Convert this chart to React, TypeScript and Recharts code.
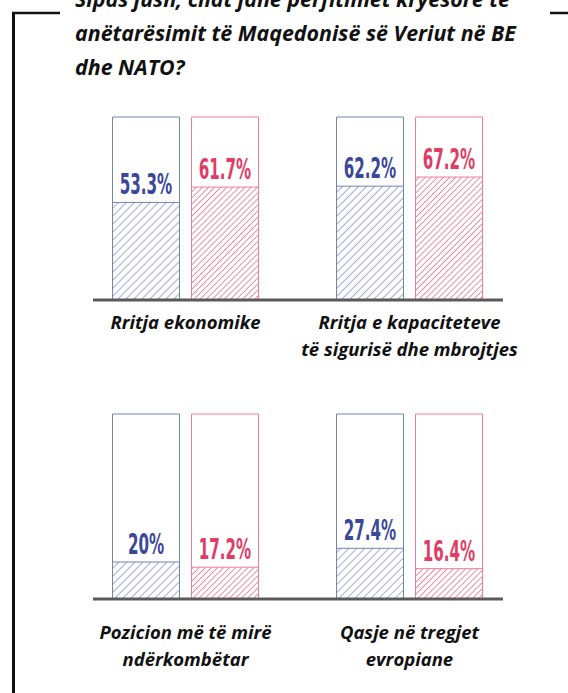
import React from 'react';
import { BarChart, Bar, XAxis, YAxis, LabelList } from 'recharts';

const titleLines = [
  'Sipas jush, cilat janë përfitimet kryesore të',
  'anëtarësimit të Maqedonisë së Veriut në BE',
  'dhe NATO?',
];

const topCategories = ['Rritja ekonomike', 'Rritja e kapaciteteve\ntë sigurisë dhe mbrojtjes'];
const topBlue = [53.3, 62.2];
const topPink = [61.7, 67.2];

const bottomCategories = ['Pozicion më të mirë\nndërkombëtar', 'Qasje në tregjet\nevropiane'];
const bottomBlue = [20, 27.4];
const bottomPink = [17.2, 16.4];

const valueDomain: [number, number] = [0, 100];

const BLUE_TEXT = '#3b4799';
const BLUE_BORDER = '#7486ab';
const BLUE_HATCH = '#7a86c2';
const PINK_TEXT = '#e03c66';
const PINK_BORDER = '#f07d99';
const PINK_HATCH = '#e8456c';

const LABEL_FONT = "'Liberation Sans Narrow', 'DejaVu Sans Condensed', 'Arial Narrow', sans-serif";
const TEXT_FONT = "'Open Sans', Lato, sans-serif";

const makeValueLabel = (color: string) => (props: any) => {
  const { x, y, width, value } = props;
  const cx = Number(x) + Number(width) / 2;
  const by = Number(y) - 8;
  return (
    <text
      x={cx}
      y={by}
      textAnchor="middle"
      fill={color}
      fontFamily={LABEL_FONT}
      fontWeight={700}
      fontSize={28}
      transform={`translate(${cx} ${by}) scale(0.6 1) translate(${-cx} ${-by})`}
    >
      {`${value}%`}
    </text>
  );
};

const makeTick = (firstOffset: number) => (props: any) => {
  const { x, y, payload } = props;
  const lines = String(payload.value).split('\n');
  return (
    <text
      x={x}
      y={y}
      textAnchor="middle"
      fill="#111"
      fontFamily={TEXT_FONT}
      fontStyle="italic"
      fontWeight={700}
      fontSize={18.5}
    >
      {lines.map((l, i) => (
        <tspan key={i} x={x} y={Number(y) + firstOffset + i * 27}>
          {l}
        </tspan>
      ))}
    </text>
  );
};

type RowProps = {
  categories: string[];
  blue: number[];
  pink: number[];
  top: number;
  plotTop: number;
  plotBottom: number;
  tickOffset: number;
  id: string;
};

const Row = ({ categories, blue, pink, top, plotTop, plotBottom, tickOffset, id }: RowProps) => {
  const data = categories.map((name, i) => ({ name, blue: blue[i], pink: pink[i] }));
  const axisH = 80;
  const height = plotTop + (plotBottom - plotTop) + axisH;
  return (
    <div style={{ position: 'absolute', left: 0, top }}>
      <BarChart
        width={568}
        height={height}
        data={data}
        margin={{ top: plotTop, right: 65, bottom: 0, left: 93 }}
        barSize={67}
        barGap={12}
      >
        <defs>
          <pattern
            id={`hb-${id}`}
            patternUnits="userSpaceOnUse"
            width={5.66}
            height={5.66}
            patternTransform="rotate(45)"
          >
            <line x1={0} y1={0} x2={0} y2={5.66} stroke={BLUE_HATCH} strokeWidth={1.3} />
          </pattern>
          <pattern
            id={`hp-${id}`}
            patternUnits="userSpaceOnUse"
            width={4.3}
            height={4.3}
            patternTransform="rotate(45)"
          >
            <line x1={0} y1={0} x2={0} y2={4.3} stroke={PINK_HATCH} strokeWidth={1.2} />
          </pattern>
        </defs>
        <YAxis hide domain={valueDomain} />
        <XAxis
          dataKey="name"
          height={axisH}
          axisLine={{ stroke: '#5a5a5a', strokeWidth: 3 }}
          tickLine={false}
          tickSize={0}
          tickMargin={0}
          padding={{ left: -19.5, right: -18.5 }}
          interval={0}
          tick={makeTick(tickOffset)}
        />
        <Bar
          dataKey="blue"
          fill={`url(#hb-${id})`}
          stroke={BLUE_BORDER}
          strokeWidth={1}
          background={{ fill: '#ffffff', stroke: BLUE_BORDER, strokeWidth: 1 }}
          isAnimationActive={false}
        >
          <LabelList dataKey="blue" content={makeValueLabel(BLUE_TEXT)} />
        </Bar>
        <Bar
          dataKey="pink"
          fill={`url(#hp-${id})`}
          stroke={PINK_BORDER}
          strokeWidth={1}
          background={{ fill: '#ffffff', stroke: PINK_BORDER, strokeWidth: 1 }}
          isAnimationActive={false}
        >
          <LabelList dataKey="pink" content={makeValueLabel(PINK_TEXT)} />
        </Bar>
      </BarChart>
    </div>
  );
};

export default function App() {
  return (
    <div
      style={{
        position: 'absolute',
        left: 0,
        top: 0,
        width: 568,
        height: 693,
        overflow: 'hidden',
        background: '#fff',
      }}
    >
      <svg
        width={568}
        height={693}
        style={{ position: 'absolute', left: 0, top: 0 }}
      >
        <line x1={13.5} y1={12} x2={13.5} y2={693} stroke="#111" strokeWidth={3} />
        <line x1={12} y1={13} x2={60} y2={13} stroke="#111" strokeWidth={2.5} />
        <line x1={550} y1={13} x2={568} y2={13} stroke="#111" strokeWidth={2.5} />
        {titleLines.map((t, i) => (
          <text
            key={i}
            x={75}
            y={7 + i * 34}
            fill="#111"
            fontFamily={TEXT_FONT}
            fontStyle="italic"
            fontWeight={700}
            fontSize={21.4}
          >
            {t}
          </text>
        ))}
      </svg>
      <Row
        id="top"
        categories={topCategories}
        blue={topBlue}
        pink={topPink}
        top={0}
        plotTop={117}
        plotBottom={300}
        tickOffset={29}
      />
      <Row
        id="bottom"
        categories={bottomCategories}
        blue={bottomBlue}
        pink={bottomPink}
        top={0}
        plotTop={414}
        plotBottom={599}
        tickOffset={40}
      />
    </div>
  );
}
